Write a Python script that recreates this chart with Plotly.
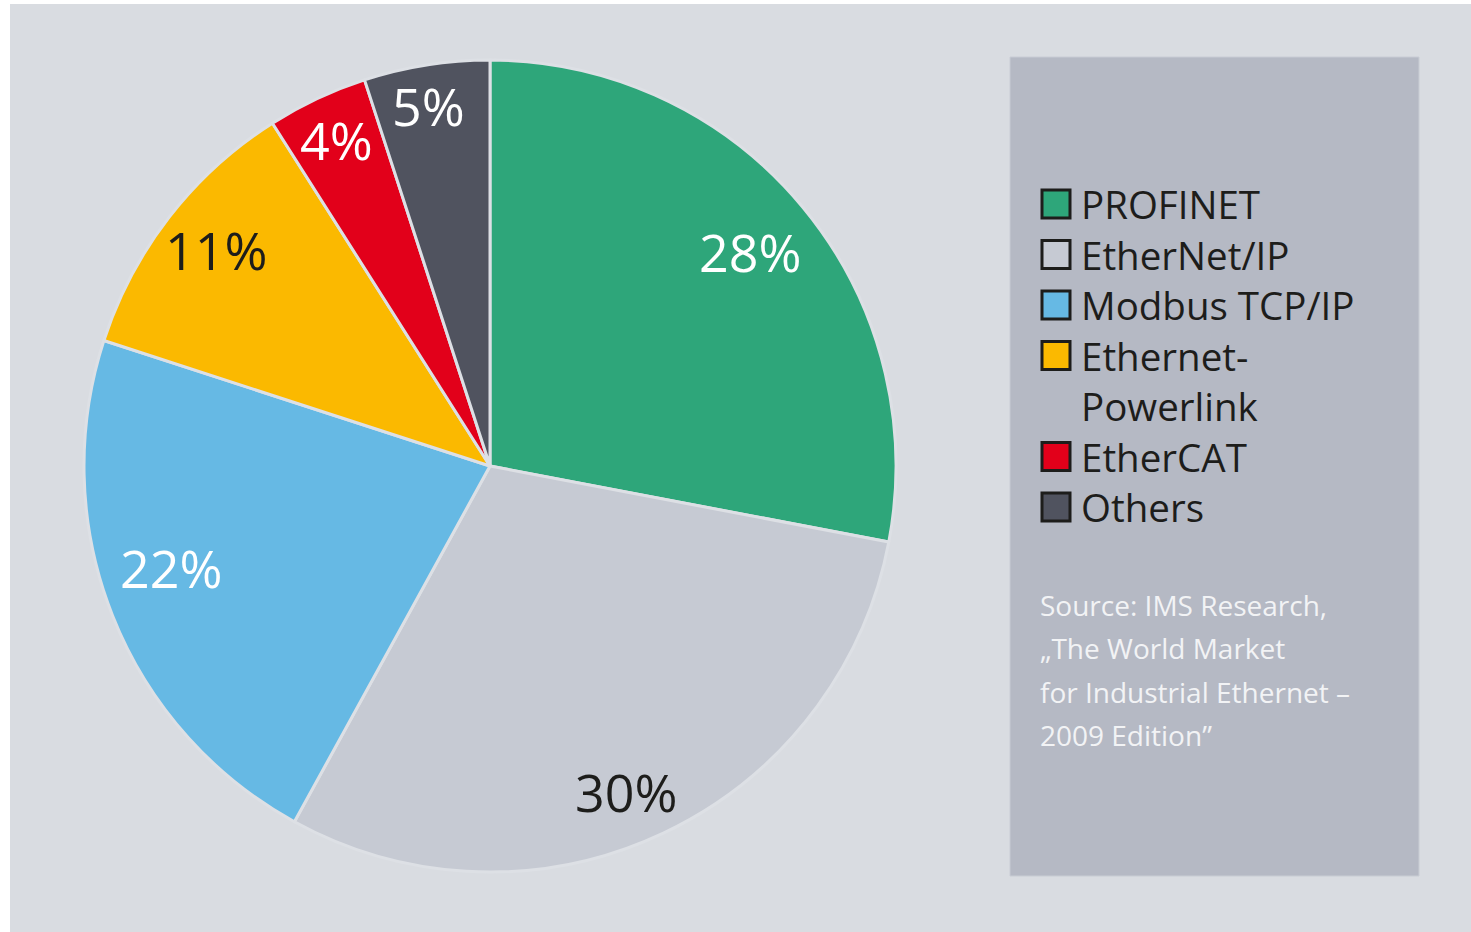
import math
import plotly.graph_objects as go

# ---- data ----
categories = ["PROFINET", "EtherNet/IP", "Modbus TCP/IP", "Ethernet-Powerlink", "EtherCAT", "Others"]
legend_labels = ["PROFINET", "EtherNet/IP", "Modbus TCP/IP", "Ethernet-<br>Powerlink", "EtherCAT", "Others"]
shares = [28, 30, 22, 11, 4, 5]
source_lines = ["Source: IMS Research,", "„The World Market", "for Industrial Ethernet –", "2009 Edition”"]

# ---- style ----
colors = ["#2ea67a", "#c6cad3", "#66b9e4", "#fbb900", "#e2001a", "#50535f"]
label_colors = ["white", "#1d1d1b", "white", "#1d1d1b", "white", "white"]
label_r = [0.83, 0.87, 0.825, 0.86, 0.89, 0.90]
label_dtheta = [0, 2.5, 4, 0.5, 0, -0.7]  # degrees, nudging labels off the exact mid-angle

W, H = 1471, 932
cx, cy, R = 490, 466, 406
FONT = "Open Sans"


def px(x):
    return x / W


def py(y):
    return 1 - y / H


fig = go.Figure()
fig.add_trace(go.Pie(
    labels=categories,
    values=shares,
    sort=False,
    direction="clockwise",
    rotation=0,
    marker=dict(colors=colors, line=dict(color="#dde0e5", width=3)),
    textinfo="none",
    hoverinfo="label+percent",
    showlegend=False,
    domain=dict(x=[px(cx - R), px(cx + R)], y=[py(cy + R), py(cy - R)]),
))

shapes = []
annotations = []

# background panels
shapes.append(dict(type="rect", xref="paper", yref="paper", x0=px(10), x1=1, y0=0, y1=py(4),
                   fillcolor="#d9dce1", line=dict(width=0), layer="below"))
shapes.append(dict(type="rect", xref="paper", yref="paper", x0=px(1010), x1=px(1419), y0=py(876), y1=py(57),
                   fillcolor="#b5b9c4", line=dict(color="#c8ccd4", width=1), layer="below"))

# percentage labels near slice mid-angles
total = sum(shares)
cum = 0
for v, c, rf, dt in zip(shares, label_colors, label_r, label_dtheta):
    mid = (cum + v / 2) / total * 2 * math.pi + math.radians(dt)
    cum += v
    x = cx + rf * R * math.sin(mid)
    y = cy - rf * R * math.cos(mid)
    annotations.append(dict(x=px(x), y=py(y), xref="paper", yref="paper", text=f"{round(v / total * 100)}%",
                            showarrow=False, font=dict(family=FONT, size=52, color=c),
                            xanchor="center", yanchor="middle"))

# manual legend
yc = 204
for lab, col in zip(legend_labels, colors):
    shapes.append(dict(type="rect", xref="paper", yref="paper", x0=px(1042), x1=px(1070),
                       y0=py(yc + 14), y1=py(yc - 14), fillcolor=col,
                       line=dict(color="#1d1d1b", width=3)))
    nlines = lab.count("<br>") + 1
    annotations.append(dict(x=px(1079), y=py(yc - 28), xref="paper", yref="paper", text=lab,
                            showarrow=False, xanchor="left", yanchor="top", align="left",
                            font=dict(family=FONT, size=38.5, color="#1d1d1b")))
    yc += 50.5 * nlines

# source text
for i, line in enumerate(source_lines):
    annotations.append(dict(x=px(1038), y=py(605 + i * 43.3), xref="paper", yref="paper", text=line,
                            showarrow=False, xanchor="left", yanchor="middle",
                            font=dict(family=FONT, size=28, color="#f2f3f5")))

fig.update_layout(
    width=W, height=H,
    margin=dict(l=0, r=0, t=0, b=0),
    paper_bgcolor="white",
    plot_bgcolor="white",
    shapes=shapes,
    annotations=annotations,
    showlegend=False,
)

fig.write_html(
    "out.html",
    config={"displayModeBar": False},
    post_script="document.body.style.margin='0';document.body.style.overflow='hidden';",
)
